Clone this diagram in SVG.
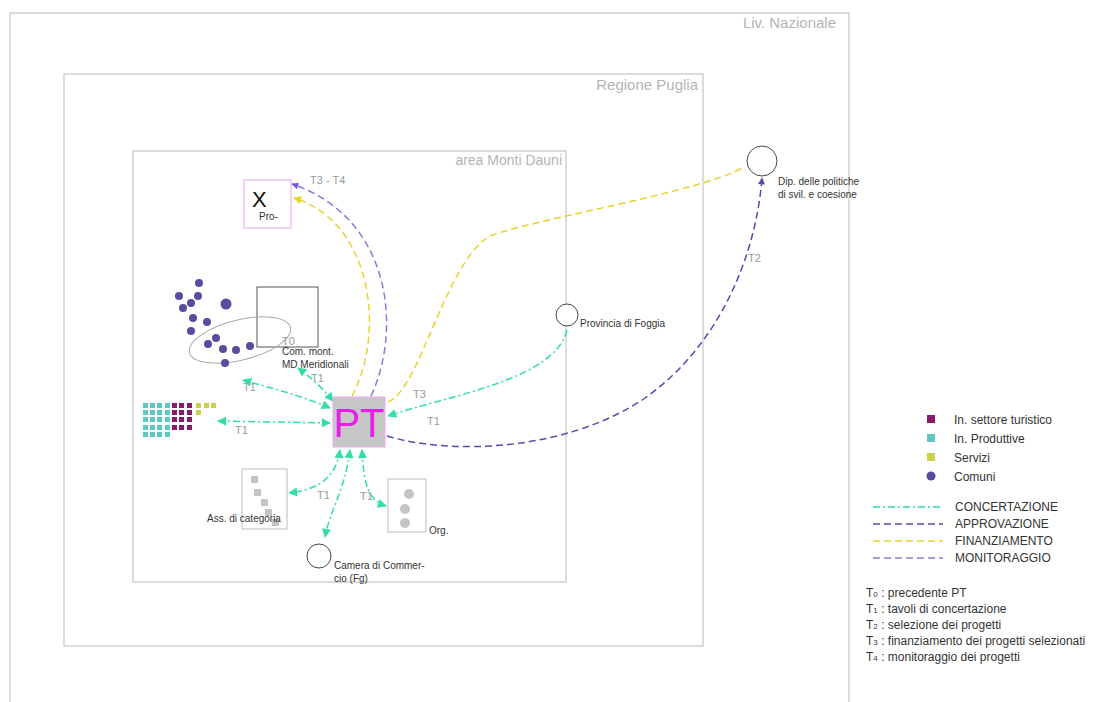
<svg xmlns="http://www.w3.org/2000/svg" width="1098" height="702" viewBox="0 0 1098 702">
<style>
.frame{fill:none;stroke:#d0d0d0;stroke-width:1.5}
.flabel{font-family:"Liberation Sans",sans-serif;fill:#b4b4b4}
.t{font-family:"Liberation Sans",sans-serif;fill:#333;font-size:10px}
.tl{font-family:"Liberation Sans",sans-serif;fill:#9a9a9a;font-size:11px}
.leg{font-family:"Liberation Sans",sans-serif;fill:#333;font-size:12px}
.conc{fill:none;stroke:#2fe0a6;stroke-width:1.5;stroke-dasharray:7 3 2 3}
.appr{fill:none;stroke:#5a4ab0;stroke-width:1.5;stroke-dasharray:7 4}
.fin{fill:none;stroke:#e8d22c;stroke-width:1.5;stroke-dasharray:7 4}
.mon{fill:none;stroke:#8a7ad8;stroke-width:1.5;stroke-dasharray:7 4}
.com{fill:#5b4a9e}
.tur{fill:#8a1a6a}
.prod{fill:#5cc8c0}
.serv{fill:#c8d04c}
.circ{fill:#fff;stroke:#444;stroke-width:1}
</style>
<defs>
<marker id="ag" viewBox="0 0 10 10" refX="9" refY="5" markerWidth="10" markerHeight="9" markerUnits="userSpaceOnUse" orient="auto-start-reverse"><path d="M0,0 L10,5 L0,10 z" fill="#2fe0a6"/></marker>
<marker id="ap" viewBox="0 0 10 10" refX="9" refY="5" markerWidth="8" markerHeight="7" markerUnits="userSpaceOnUse" orient="auto"><path d="M0,0 L10,5 L0,10 z" fill="#5a4ab0"/></marker>
<marker id="ay" viewBox="0 0 10 10" refX="9" refY="5" markerWidth="10" markerHeight="8" markerUnits="userSpaceOnUse" orient="auto"><path d="M0,0 L10,5 L0,10 z" fill="#e8d22c"/></marker>
<marker id="am" viewBox="0 0 10 10" refX="9" refY="5" markerWidth="9" markerHeight="7" markerUnits="userSpaceOnUse" orient="auto"><path d="M0,0 L10,5 L0,10 z" fill="#7a5ae0"/></marker>
</defs>
<rect width="1098" height="702" fill="#fff"/>

<g id="frames">
<rect class="frame" x="10" y="13" width="839" height="700"/>
<text class="flabel" x="836" y="28" font-size="15" text-anchor="end">Liv. Nazionale</text>
<rect class="frame" x="64" y="74" width="639" height="572"/>
<text class="flabel" x="698" y="90" font-size="15" text-anchor="end">Regione Puglia</text>
<rect class="frame" x="133" y="151" width="433" height="431"/>
<text class="flabel" x="562" y="165" font-size="14" text-anchor="end">area Monti Dauni</text>
</g>

<g id="connectors">
<path class="mon" d="M371,396 C402,330 392,218 292,184" marker-end="url(#am)"/>
<path class="fin" d="M352,396 C386,332 372,222 294,198" marker-end="url(#ay)"/>
<path class="fin" d="M388,402 C420,390 445,262 490,236 C530,220 700,192 742,168"/>
<path class="appr" d="M387,436 C450,455 565,452 645,398 C720,345 756,255 762,178" marker-end="url(#ap)"/>
<path class="conc" d="M567,330 C555,380 450,395 388,416" marker-end="url(#ag)"/>
<path class="conc" d="M330,408 C300,395 270,388 243,380" marker-start="url(#ag)" marker-end="url(#ag)"/>
<path class="conc" d="M333,401 C320,385 310,377 298,368" marker-start="url(#ag)" marker-end="url(#ag)"/>
<path class="conc" d="M330,423 L218,421" marker-start="url(#ag)" marker-end="url(#ag)"/>
<path class="conc" d="M340,450 C336,480 315,490 289,493" marker-start="url(#ag)" marker-end="url(#ag)"/>
<path class="conc" d="M350,450 C345,490 330,510 325,537" marker-start="url(#ag)" marker-end="url(#ag)"/>
<path class="conc" d="M362,450 C364,485 368,500 386,506" marker-start="url(#ag)" marker-end="url(#ag)"/>
<text class="tl" x="310" y="184">T3 - T4</text>
<text class="tl" x="413" y="398">T3</text>
<text class="tl" x="427" y="425">T1</text>
<text class="tl" x="748" y="262">T2</text>
<text class="tl" x="243" y="391">T1</text>
<text class="tl" x="311" y="382">T1</text>
<text class="tl" x="235" y="434">T1</text>
<text class="tl" x="317" y="499">T1</text>
<text class="tl" x="360" y="500">T1</text>
</g>

<g id="node-X">
<rect x="244" y="180" width="47" height="48" fill="#fff" stroke="#ecb4ec" stroke-width="1.2"/>
<text x="252" y="207" font-family="Liberation Sans,sans-serif" font-size="22" fill="#111">X</text>
<text class="t" x="259" y="220">Pro-</text>
</g>

<g id="node-PT">
<rect x="333" y="397" width="52" height="50" fill="#c6c6c6" stroke="#eab4ea" stroke-width="1.2"/>
<text x="359" y="437" font-family="Liberation Sans,sans-serif" font-size="40" fill="#e81ee8" text-anchor="middle">PT</text>
</g>

<g id="node-comunita">
<rect x="257" y="287" width="61" height="60" fill="none" stroke="#555" stroke-width="1"/>
<ellipse cx="240" cy="340" rx="52" ry="20" transform="rotate(-14 240 340)" fill="none" stroke="#aaa" stroke-width="1"/>
<text class="tl" x="282" y="345">T0</text>
<text class="t" x="282" y="355">Com. mont.</text>
<text class="t" x="282" y="368">MD Meridionali</text>
</g>

<g id="node-comuni">
<circle class="com" cx="199" cy="283" r="4"/>
<circle class="com" cx="179" cy="296" r="4"/>
<circle class="com" cx="198" cy="296" r="4"/>
<circle class="com" cx="191" cy="303" r="4"/>
<circle class="com" cx="183" cy="308" r="4"/>
<circle class="com" cx="226" cy="304" r="5.5"/>
<circle class="com" cx="193" cy="318" r="4"/>
<circle class="com" cx="207" cy="322" r="4"/>
<circle class="com" cx="191" cy="331" r="4"/>
<circle class="com" cx="216" cy="338" r="4"/>
<circle class="com" cx="208" cy="344" r="4"/>
<circle class="com" cx="223" cy="349" r="4"/>
<circle class="com" cx="236" cy="350" r="4"/>
<circle class="com" cx="250" cy="346" r="4"/>
<circle class="com" cx="225" cy="363" r="4"/>
</g>

<g id="node-imprese">
<g class="prod">
<rect x="143" y="403" width="5" height="5"/><rect x="150" y="403" width="5" height="5"/><rect x="157" y="403" width="5" height="5"/><rect x="165" y="403" width="5" height="5"/>
<rect x="143" y="410" width="5" height="5"/><rect x="150" y="410" width="5" height="5"/><rect x="157" y="410" width="5" height="5"/><rect x="165" y="410" width="5" height="5"/>
<rect x="143" y="417" width="5" height="5"/><rect x="150" y="417" width="5" height="5"/><rect x="157" y="417" width="5" height="5"/><rect x="165" y="417" width="5" height="5"/>
<rect x="143" y="425" width="5" height="5"/><rect x="150" y="425" width="5" height="5"/><rect x="157" y="425" width="5" height="5"/><rect x="165" y="425" width="5" height="5"/>
<rect x="143" y="432" width="5" height="5"/><rect x="150" y="432" width="5" height="5"/><rect x="157" y="432" width="5" height="5"/><rect x="165" y="432" width="5" height="5"/>
</g>
<g class="tur">
<rect x="172" y="403" width="5" height="5"/><rect x="179" y="403" width="5" height="5"/><rect x="187" y="403" width="5" height="5"/>
<rect x="172" y="410" width="5" height="5"/><rect x="179" y="410" width="5" height="5"/><rect x="187" y="410" width="5" height="5"/>
<rect x="172" y="417" width="5" height="5"/><rect x="179" y="417" width="5" height="5"/><rect x="187" y="417" width="5" height="5"/>
<rect x="172" y="425" width="5" height="5"/><rect x="179" y="425" width="5" height="5"/><rect x="187" y="425" width="5" height="5"/>
</g>
<g class="serv">
<rect x="196" y="403" width="5" height="5"/><rect x="204" y="403" width="5" height="5"/><rect x="211" y="403" width="5" height="5"/>
<rect x="196" y="410" width="5" height="5"/>
</g>
</g>

<g id="node-ass">
<rect x="242" y="469" width="45" height="60" fill="#fff" stroke="#bbb" stroke-width="1"/>
<g fill="#c4c4c4">
<rect x="251" y="476" width="7" height="7"/><rect x="254" y="489" width="7" height="7"/><rect x="261" y="499" width="7" height="7"/><rect x="265" y="509" width="7" height="7"/><rect x="272" y="519" width="7" height="7"/>
</g>
<text class="t" x="207" y="522">Ass. di categoria</text>
</g>

<g id="node-org">
<rect x="388" y="479" width="38" height="53" fill="#fff" stroke="#bbb" stroke-width="1"/>
<g fill="#c4c4c4">
<circle cx="409" cy="494" r="5"/><circle cx="405" cy="509" r="5"/><circle cx="405" cy="523" r="5"/>
</g>
<text class="t" x="429" y="534">Org.</text>
</g>

<g id="node-camera">
<circle class="circ" cx="319" cy="556" r="12"/>
<text class="t" x="334" y="569">Camera di Commer-</text>
<text class="t" x="334" y="582">cio (Fg)</text>
</g>

<g id="node-provincia">
<circle class="circ" cx="567" cy="315" r="11"/>
<text class="t" x="580" y="327">Provincia di Foggia</text>
</g>

<g id="node-dip">
<circle class="circ" cx="762" cy="161" r="15"/>
<text class="t" x="778" y="185">Dip. delle politiche</text>
<text class="t" x="778" y="198">di svil. e coesione</text>
</g>

<g id="legend">
<rect class="tur" x="927" y="415" width="8" height="8"/>
<rect class="prod" x="927" y="434" width="8" height="8"/>
<rect class="serv" x="927" y="453" width="8" height="8"/>
<circle class="com" cx="931" cy="476" r="4.5"/>
<text class="leg" x="954" y="424">In. settore turistico</text>
<text class="leg" x="954" y="443">In. Produttive</text>
<text class="leg" x="954" y="462">Servizi</text>
<text class="leg" x="954" y="481">Comuni</text>
<path class="conc" d="M873,507 H943"/>
<path class="appr" d="M873,524 H943"/>
<path class="fin" d="M873,541 H943"/>
<path class="mon" d="M873,558 H943"/>
<text class="leg" x="955" y="511">CONCERTAZIONE</text>
<text class="leg" x="955" y="528">APPROVAZIONE</text>
<text class="leg" x="955" y="545">FINANZIAMENTO</text>
<text class="leg" x="955" y="562">MONITORAGGIO</text>
<text class="leg" x="866" y="597">T<tspan font-size="8">0</tspan> : precedente PT</text>
<text class="leg" x="866" y="613">T<tspan font-size="8">1</tspan> : tavoli di concertazione</text>
<text class="leg" x="866" y="629">T<tspan font-size="8">2</tspan> : selezione dei progetti</text>
<text class="leg" x="866" y="645">T<tspan font-size="8">3</tspan> :  finanziamento dei progetti selezionati</text>
<text class="leg" x="866" y="661">T<tspan font-size="8">4</tspan> : monitoraggio dei progetti</text>
</g>
</svg>
